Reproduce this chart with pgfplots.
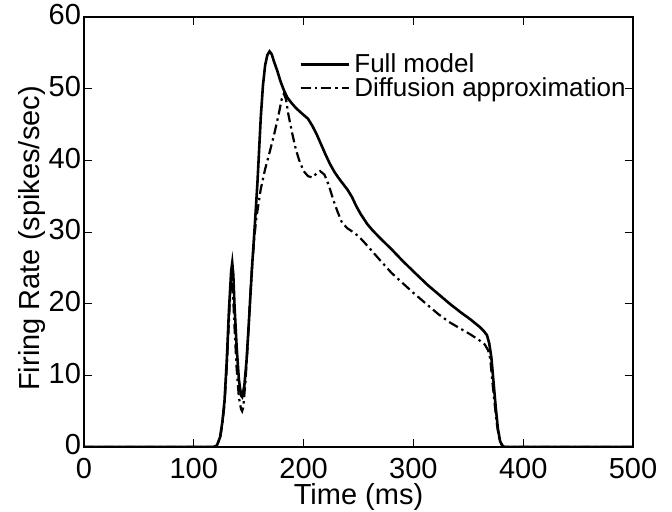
\documentclass[border=0pt]{standalone}
\usepackage{fontspec}
\setmainfont{Liberation Sans}
\usepackage{pgfplots}
\pgfplotsset{compat=1.18}
\begin{document}
\begin{tikzpicture}
\begin{axis}[
  name=ax,
  scale only axis,
  width=274.5pt, height=215pt,
  xmin=0, xmax=500, ymin=0, ymax=60,
  xtick={0,100,...,500}, ytick={0,10,...,60},
  tick align=inside,
  major tick length=4pt,
  tick style={black, line width=0.5pt},
  axis line style={line width=0.7pt},
  /pgf/number format/assume math mode=true,
  tick label style={font=\fontsize{14.5}{16}\selectfont},
  xticklabel style={yshift=-2pt},
  yticklabel style={xshift=2pt, yshift=1pt},
  xlabel={Time (ms)},
  ylabel={Firing Rate (spikes/sec)},
  label style={font=\fontsize{14.5}{16}\selectfont},
  xlabel style={at={(axis description cs:0.5,0)}, anchor=north, yshift=-14.5pt},
  ylabel style={at={(axis description cs:-0.0947,0.485)}, anchor=center},
  legend style={draw=none, fill=none, at={(axis description cs:0.388,0.93)}, anchor=north west,
    font=\fontsize{13}{13}\selectfont, row sep=-3pt, inner sep=1pt},
  legend cell align=left,
  legend image code/.code={\draw[#1] (0cm,0cm) -- (0.85cm,0cm);},
]
\addplot[black, line width=1.3pt] coordinates {
(0,0) (118,0) (121,0.2) (124,1.4) (126,3.5) (128,6.5) (130,12) (132,19) (134,24.5) (135,25.7) (136,24) (137,20) (139,14) (141,9.5) (143,7.2) (144,7) (146,8.5) (148,12) (150,17) (153,25) (156,32) (158,37) (161,46) (163,50.5) (165,53.3) (167,54.7) (169,55.2) (171,54.8) (173,53.8) (176,52.5) (179,51) (182,49.8) (185,48.8) (189,48) (193,47.3) (198,46.6) (204,45.8) (208,44.8) (212,43.6) (216,42.2) (220,40.8) (224,39.5) (228,38.4) (232,37.5) (236,36.7) (240,35.9) (244,34.9) (248,33.6) (252,32.5) (258,31.1) (263,30.2) (270,29.1) (280,27.6) (290,26) (300,24.5) (313,22.6) (323,21.3) (333,20) (343,18.8) (352,17.8) (360,16.8) (364,16.2) (367,15.6) (369,14.5) (371,12.5) (373,9) (375,5.5) (377,2.5) (379,0.8) (381,0.2) (383,0) (500,0)
};
\addlegendentry{Full model}
\addplot[black, line width=1.1pt, dash pattern=on 5pt off 2pt on 1.2pt off 2pt] coordinates {
(0,0) (118,0) (121,0.2) (124,1.3) (126,3.2) (128,6) (130,11) (132,17.5) (133.5,22.5) (134.5,23.5) (135.5,22) (137,17) (139,11) (141,7) (143,5.3) (144,5.0) (145,5.5) (147,9) (149,14) (151,20) (153,25) (155,29) (157,32) (161,36) (165,38.8) (169,41.1) (173,43.5) (177,46.2) (180,48.5) (182,49.3) (184,48.5) (186,46.5) (188,45) (190,43.5) (193,41.5) (196,40) (200,38.5) (204,37.8) (208,37.6) (212,38.2) (215,38.5) (219,38) (223,36.5) (227,34.5) (231,32.8) (235,31.3) (240,30.5) (245,30) (250,29.4) (255,28.6) (262,27.4) (270,26) (280,24.3) (290,22.9) (300,21.5) (313,19.8) (323,18.5) (333,17.4) (343,16.5) (352,15.7) (360,14.9) (365,14.3) (368,13.5) (370,12.3) (372,9) (374,6) (376,3.2) (378,1.3) (380,0.4) (382,0) (500,0)
};
\addlegendentry{Diffusion approximation}
\end{axis}
\pgfresetboundingbox
\path[use as bounding box] ([xshift=-42pt,yshift=-32.5pt]ax.south west) rectangle ([xshift=19.5pt,yshift=8.5pt]ax.north east);
\end{tikzpicture}
\end{document}
